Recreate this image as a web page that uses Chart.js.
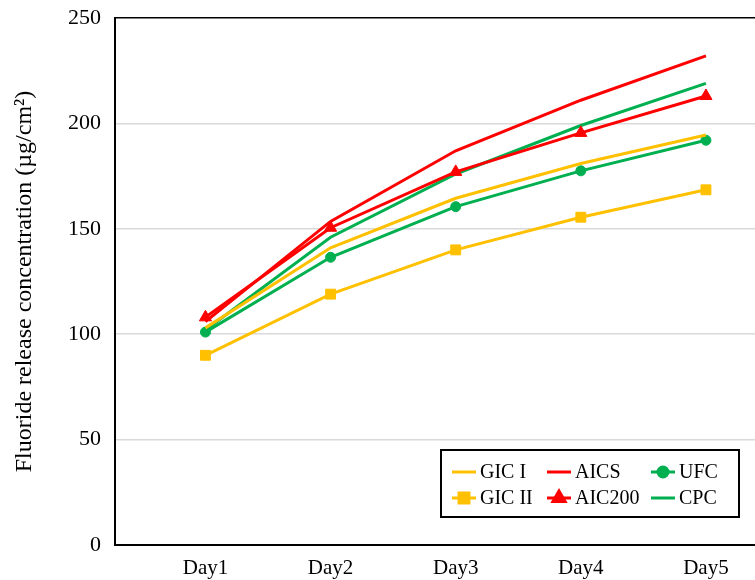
<!DOCTYPE html>
<html>
<head>
<meta charset="utf-8">
<script src="https://cdn.jsdelivr.net/npm/chart.js@4"></script>
<style>
  body { margin: 0; background: #fff; }
  #wrap { width: 755px; height: 580px; }
</style>
</head>
<body>
<div id="wrap"><canvas id="fluorideChart" width="755" height="580"></canvas></div>
<script>
// ---- Data ----
const days = ["Day1", "Day2", "Day3", "Day4", "Day5"];
const yTicks = [0, 50, 100, 150, 200, 250];

const gicI = [103, 141, 164.5, 181, 194.5];
const gicII = [90, 119, 140, 155.5, 168.5];
const aics = [106, 153.5, 187, 211, 232];
const aic200 = [108, 150.5, 177, 195.5, 213];
const ufc = [101, 136.5, 160.5, 177.5, 192];
const cpc = [102, 146, 176, 199, 219];

const YELLOW = "#FFC000";
const RED = "#FF0000";
const GREEN = "#00B050";
const FONT = "'Liberation Serif', 'Times New Roman', serif";

const toPoints = arr => arr.map((v, i) => ({ x: i + 1, y: v }));

const makeSet = (label, data, color, style, radius) => ({
  label,
  data: toPoints(data),
  borderColor: color,
  backgroundColor: color,
  borderWidth: 3,
  tension: 0,
  pointStyle: style || "circle",
  pointRadius: radius || 0,
  pointBorderWidth: 1,
  pointBackgroundColor: color,
  pointBorderColor: color,
});

// ---- Legend box drawn inside the plot ----
const boxLegend = {
  id: "boxLegend",
  afterDraw(chart) {
    const ctx = chart.ctx;
    const x0 = 441, y0 = 450, w = 298, h = 67;
    ctx.save();
    ctx.strokeStyle = "#000";
    ctx.lineWidth = 2;
    ctx.fillStyle = "#fff";
    ctx.fillRect(x0, y0, w, h);
    ctx.strokeRect(x0, y0, w, h);

    const cols = [452, 547, 651];
    const rows = [472, 498];
    chart.data.datasets.forEach((ds, i) => {
      const cx = cols[Math.floor(i / 2)];
      const cy = rows[i % 2];
      ctx.strokeStyle = ds.borderColor;
      ctx.lineWidth = 3;
      ctx.beginPath();
      ctx.moveTo(cx, cy);
      ctx.lineTo(cx + 24, cy);
      ctx.stroke();
      if (ds.pointRadius > 0) {
        ctx.fillStyle = ds.borderColor;
        Chart.helpers.drawPoint(ctx, {
          pointStyle: ds.pointStyle,
          radius: ds.pointRadius,
          borderWidth: 1,
          rotation: 0,
        }, cx + 12, cy);
        ctx.fill();
      }
      ctx.fillStyle = "#000";
      ctx.font = "20px " + FONT;
      ctx.textAlign = "left";
      ctx.textBaseline = "middle";
      ctx.fillText(ds.label, cx + 28, cy + 1);
    });
    ctx.restore();
  },
};

const ctx = document.getElementById("fluorideChart").getContext("2d");
new Chart(ctx, {
  type: "line",
  data: {
    datasets: [
      makeSet("GIC I", gicI, YELLOW),
      makeSet("GIC II", gicII, YELLOW, "rect", 7),
      makeSet("AICS", aics, RED),
      makeSet("AIC200", aic200, RED, "triangle", 7),
      makeSet("UFC", ufc, GREEN, "circle", 5),
      makeSet("CPC", cpc, GREEN),
    ],
  },
  options: {
    responsive: false,
    devicePixelRatio: 1,
    animation: false,
    layout: { autoPadding: false, padding: { top: 18, left: 0, right: 0, bottom: 0 } },
    plugins: {
      legend: { display: false },
      tooltip: { enabled: false },
    },
    scales: {
      x: {
        type: "linear",
        min: 0.277,
        max: 5.392,
        grid: { display: false },
        border: { display: true, color: "#000", width: 2 },
        afterBuildTicks: s => { s.ticks = days.map((_, i) => ({ value: i + 1 })); },
        afterFit: s => { s.height = 35; s.paddingLeft = 0; s.paddingRight = 0; },
        ticks: {
          color: "#000",
          font: { family: FONT, size: 21 },
          padding: 3,
          maxRotation: 0,
          callback: v => days[v - 1] || "",
        },
      },
      y: {
        min: 0,
        max: 250,
        afterBuildTicks: s => { s.ticks = yTicks.map(v => ({ value: v })); },
        afterFit: s => { s.width = 115; s.paddingTop = 0; s.paddingBottom = 0; },
        grid: {
          drawTicks: false,
          lineWidth: 1.5,
          color: c => (c.tick && c.tick.value === 250 ? "#000" : "#D9D9D9"),
        },
        border: { display: true, color: "#000", width: 2 },
        ticks: {
          color: "#000",
          font: { family: FONT, size: 22 },
          padding: 14,
        },
        title: {
          display: true,
          text: "Fluoride release concentration (µg/cm²)",
          color: "#000",
          font: { family: FONT, size: 24 },
          padding: { top: 10, bottom: 0 },
        },
      },
    },
  },
  plugins: [boxLegend],
});
</script>
</body>
</html>
